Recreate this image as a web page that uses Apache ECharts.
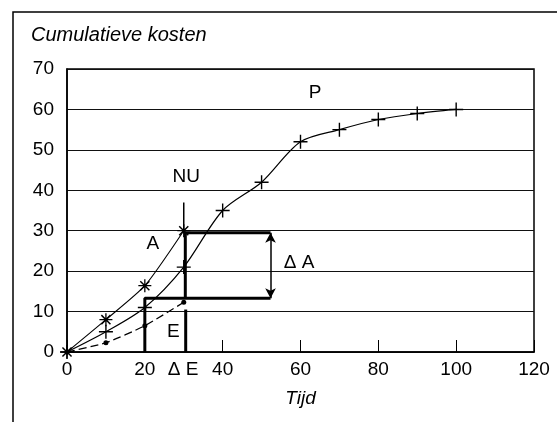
<!DOCTYPE html>
<html><head><meta charset="utf-8">
<script src="https://cdn.jsdelivr.net/npm/echarts@6/dist/echarts.min.js"></script>
<style>html,body{margin:0;padding:0;background:#fff}#c{width:557px;height:422px}</style>
</head><body><div id="c"></div>
<script>
// ---- data ----
const tijd = [0, 10, 20, 30, 40, 50, 60, 70, 80, 90, 100];
const plannedP = [0, 5, 11, 21, 35, 42, 52, 55, 57.5, 59, 60];
const tijdNu = [0, 10, 20, 30];
const actualA = [0, 8, 16.4, 30];
const earnedE = [0, 2.3, 6.5, 12.3];
const xTicks = [0, 20, 40, 60, 80, 100, 120];
const yTicks = [0, 10, 20, 30, 40, 50, 60, 70];
const nuTime = 30, nuTop = 37;
const deltaATop = 29.5, deltaABottom = 13.3, deltaAEnd = 52.3;
const eStart = 20, eEnd = 30.5, eTopRight = 10.5;
const annotations = [
  ['P', 63.8, 64], ['NU', 30.7, 43.2], ['A', 22.1, 26.7],
  ['Δ A', 59.7, 22.0], ['E', 27.4, 4.9], ['Δ E', 29.9, -4.4]
];

const FONT = 'Liberation Sans';
const plusPath = 'path://M-10,-1 L10,-1 L10,1 L-10,1 Z M-1,-10 L1,-10 L1,10 L-1,10 Z';
const k = 0.8, d = 7;
const starPath = 'path://M-10,-1 L10,-1 L10,1 L-10,1 Z M-1,-10 L1,-10 L1,10 L-1,10 Z ' +
  `M${-d+k},${-d-k} L${d+k},${d-k} L${d-k},${d+k} L${-d-k},${-d+k} Z ` +
  `M${d+k},${-d+k} L${-d+k},${d+k} L${-d-k},${d-k} L${d-k},${-d-k} Z`;

const zip = (xs, ys) => xs.map((x, i) => [x, ys[i]]);
const thick = { color: '#000', width: 3 };

const chart = echarts.init(document.getElementById('c'), null, { renderer: 'canvas' });
chart.setOption({
  animation: false,
  backgroundColor: '#fff',
  title: {
    text: 'Cumulatieve kosten', left: 31, top: 25, padding: 0,
    textStyle: { fontFamily: FONT, fontSize: 20, fontStyle: 'italic', fontWeight: 'normal', color: '#000' }
  },
  graphic: [{
    type: 'rect', shape: { x: 13, y: 12, width: 700, height: 600 },
    style: { fill: 'none', stroke: '#000', lineWidth: 1.5 }, silent: true
  }],
  grid: { left: 67, right: 23, top: 69, bottom: 70, show: true, borderColor: '#000', borderWidth: 1.5 },
  xAxis: {
    type: 'value', min: xTicks[0], max: xTicks[xTicks.length - 1], interval: xTicks[1] - xTicks[0],
    name: 'Tijd', nameLocation: 'middle', nameGap: 37,
    nameTextStyle: { fontFamily: FONT, fontSize: 19, fontStyle: 'italic', color: '#000' },
    axisLine: { lineStyle: { color: '#000', width: 1.5 } },
    axisTick: { inside: true, length: 12, lineStyle: { color: '#000', width: 1 } },
    splitLine: { show: false },
    axisLabel: { fontFamily: FONT, fontSize: 19, color: '#000', margin: 8 }
  },
  yAxis: {
    type: 'value', min: yTicks[0], max: yTicks[yTicks.length - 1], interval: yTicks[1] - yTicks[0],
    axisLine: { show: true, lineStyle: { color: '#000', width: 1.5 } },
    axisTick: { show: false },
    splitLine: { lineStyle: { color: '#111', width: 1.2 } },
    axisLabel: { fontFamily: FONT, fontSize: 19, color: '#000', margin: 13 }
  },
  series: [
    { type: 'line', data: zip(tijd, plannedP), smooth: 0.3, symbol: plusPath, symbolSize: 14,
      itemStyle: { color: '#000' }, lineStyle: { color: '#000', width: 1.2 }, z: 5 },
    { type: 'line', data: zip(tijdNu, actualA), smooth: 0.2, symbol: starPath, symbolSize: 13,
      itemStyle: { color: '#000' }, lineStyle: { color: '#000', width: 1.1 }, z: 6 },
    { type: 'line', data: zip(tijdNu, earnedE), smooth: 0.2, symbol: 'circle', symbolSize: 5,
      itemStyle: { color: '#000' }, lineStyle: { color: '#000', width: 1.2, type: [8, 4] }, z: 5 },
    { type: 'line', data: [[nuTime, nuTop], [nuTime, deltaATop]], symbol: 'none',
      lineStyle: { color: '#000', width: 1.5 }, z: 4 },
    { type: 'line', data: [[deltaAEnd, deltaATop], [nuTime + 0.4, deltaATop], [nuTime + 0.4, deltaABottom]],
      symbol: 'none', lineStyle: thick, z: 4 },
    { type: 'line', data: [[deltaAEnd, deltaABottom], [eStart, deltaABottom], [eStart, 0]],
      symbol: 'none', lineStyle: thick, z: 4 },
    { type: 'line', data: [[eEnd, eTopRight], [eEnd, 0]], symbol: 'none', lineStyle: thick, z: 4,
      markLine: {
        silent: true, symbol: ['arrow', 'arrow'], symbolSize: [8, 10], label: { show: false },
        data: [
          [{ coord: [deltaAEnd, deltaATop], lineStyle: { color: '#000', width: 1.5, type: 'solid' } },
           { coord: [deltaAEnd, deltaABottom] }],
          [{ coord: [eStart, -0.9], lineStyle: { color: '#000', width: 3, type: 'solid' } },
           { coord: [eEnd, -0.9] }]
        ]
      }, clip: false },
    { type: 'scatter', data: annotations.map(a => [a[1], a[2], a[0]]), symbol: 'circle', symbolSize: 0.5, clip: false,
      itemStyle: { color: '#fff', opacity: 1 },
      label: { show: true, position: [0, 0], align: 'center', verticalAlign: 'middle',
        formatter: p => p.data[2], fontFamily: FONT, fontSize: 19, color: '#000',
        textBorderWidth: 0, opacity: 1 }, z: 7 }
  ]
});
</script></body></html>
